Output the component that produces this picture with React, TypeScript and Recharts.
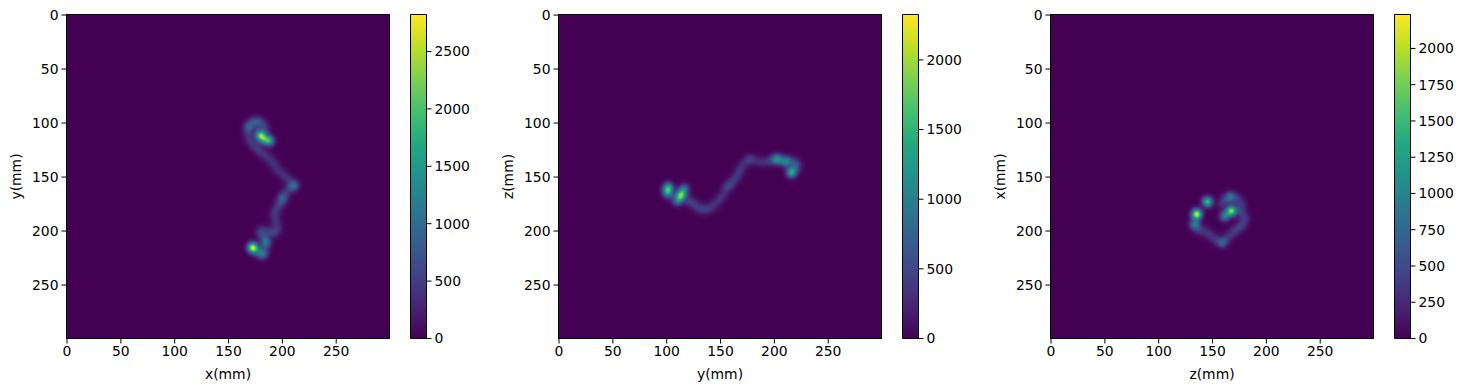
import { Bar, BarChart, Label, ReferenceArea, Scatter, ScatterChart, XAxis, YAxis } from "recharts";

type Peak = [number, number, number];

// [horizontal mm, vertical mm, peak counts], read along each track
const xyPeaks: Peak[] = [
  [172.4, 215.3, 2500], [175.5, 218, 420], [179, 220.5, 420], [182, 221.5, 750], [184, 216, 280],
  [184.7, 210.5, 950], [183, 206, 320], [179.5, 203, 260], [180, 199, 240], [184, 199.5, 180],
  [188, 201, 250], [192, 202, 300], [195.5, 199, 250], [195, 194.5, 200], [193.5, 190, 220],
  [193, 185.5, 240], [193.5, 181, 220], [196, 177.5, 240], [198.5, 174, 290], [200, 170, 680],
  [201.5, 166.5, 240], [204.5, 163, 200], [208, 160, 340], [211, 157.5, 800], [207, 153.5, 220],
  [203, 150, 240], [199, 146.5, 220], [195, 142.5, 260], [192, 138, 230], [188.8, 134, 260],
  [185, 130.5, 210], [181.5, 128, 230], [177.5, 124.5, 330], [174, 121, 250], [171, 117.5, 280],
  [169, 113, 250], [168, 108, 280], [168.7, 103.5, 650], [171.5, 100, 300], [175, 98.5, 500],
  [179, 99, 340], [182.5, 102, 300], [184.5, 106, 240], [180, 111.7, 1850], [178, 108.5, 300],
  [182.6, 114.8, 800], [188, 116.4, 1400], [185, 116, 400],
];
const yzPeaks: Peak[] = [
  [101.4, 159.7, 1200], [100.8, 164.3, 1050], [113, 167.4, 1500], [116.2, 161.2, 750], [110, 172, 800],
  [114.5, 164, 400], [104, 167, 150], [120, 172, 260], [124, 174, 260], [128, 177.5, 230],
  [132, 180, 260], [136.5, 180, 230], [141, 178.5, 260], [145.5, 174, 230], [150, 169.5, 260],
  [153.5, 164, 230], [157, 158.5, 380], [160.5, 155, 220], [164, 151.5, 240], [166.5, 147, 210],
  [168.7, 142.5, 230], [172, 137.5, 220], [176.5, 133.5, 330], [181.5, 134.5, 190], [187, 135.6, 190],
  [192, 136, 180], [197, 135, 240], [202, 133.4, 1050], [206, 134.5, 240], [210.4, 135.6, 900],
  [215, 135, 240], [219.7, 136.5, 300], [221, 141, 320], [216, 145.8, 1300], [217, 141, 200],
];
const zxPeaks: Peak[] = [
  [135.4, 184.4, 2100], [133.6, 193.7, 900], [136, 198, 200], [145.3, 173, 1500], [139, 199.5, 170],
  [143.8, 200.5, 220], [148, 204, 210], [153, 207.8, 260], [159, 210.7, 650], [163, 207, 220],
  [167, 203, 240], [171, 199.5, 220], [174.7, 196.8, 260], [178, 193.5, 240], [180, 189, 210],
  [178.5, 185, 220], [175.6, 181, 240], [167.6, 181.3, 1800], [161.4, 186, 950], [159, 175, 240],
  [161, 171, 200], [166.3, 168.5, 800], [171, 169, 220], [175, 172, 220], [177, 176.5, 200],
];

const axisTicks = [0, 50, 100, 150, 200, 250];
const xyBarTicks = [0, 500, 1000, 1500, 2000, 2500];
const yzBarTicks = [0, 500, 1000, 1500, 2000];
const zxBarTicks = [0, 250, 500, 750, 1000, 1250, 1500, 1750, 2000];

const viridis = ["#440154", "#482475", "#414487", "#355f8d", "#2a788e", "#21918c", "#22a884", "#44bf70", "#7ad151", "#bddf26", "#fde725"];

const channel = (shift: number) =>
  viridis.map((c) => ((parseInt(c.slice(1), 16) >> shift) & 255) / 255).join(" ");

const font = "'DejaVu Sans'";
const tickStyle = { fontSize: 13.9, fontFamily: font, fill: "#000" };
const labelStyle = { fontSize: 13.9, fontFamily: font, fill: "#000" };

function Blob(props: any) {
  return (
    <circle
      cx={props.cx}
      cy={props.cy}
      r={11}
      fill="url(#blob)"
      opacity={props.payload.v / props.payload.max}
      style={{ mixBlendMode: "plus-lighter" }}
    />
  );
}

interface PanelProps {
  left: number;
  peaks: Peak[];
  max: number;
  barTicks: number[];
  xLabel: string;
  yLabel: string;
}

function Panel({ left, peaks, max, barTicks, xLabel, yLabel }: PanelProps) {
  const data = peaks.map(([x, y, v]) => ({ x, y, v, max }));
  return (
    <>
      <div style={{ position: "absolute", left, top: 0 }}>
        <ScatterChart width={392} height={391} margin={{ top: 14.5, right: 2.5, bottom: 0, left: 0 }}>
          <XAxis
            type="number"
            dataKey="x"
            domain={[-0.5, 299.5]}
            ticks={axisTicks}
            height={52.5}
            tick={tickStyle}
            tickSize={5}
            tickMargin={3}
            stroke="#000"
            allowDataOverflow
          >
            <Label value={xLabel} position="insideBottom" offset={12} style={labelStyle} />
          </XAxis>
          <YAxis
            type="number"
            dataKey="y"
            reversed
            domain={[-0.5, 299.5]}
            ticks={axisTicks}
            width={66.5}
            tick={tickStyle}
            tickSize={5}
            tickMargin={3}
            stroke="#000"
            allowDataOverflow
          >
            <Label value={yLabel} angle={-90} position="insideLeft" offset={16} style={{ ...labelStyle, textAnchor: "middle" }} />
          </YAxis>
          <ReferenceArea x1={-0.5} x2={299.5} y1={-0.5} y2={299.5} fill="#440154" fillOpacity={1} stroke="#000" strokeOpacity={1} />
          <Scatter data={data} shape={Blob} isAnimationActive={false} />
        </ScatterChart>
      </div>
      <div style={{ position: "absolute", left: left + 344, top: 0 }}>
        <BarChart
          width={136}
          height={391}
          data={[{ name: "", value: max }]}
          barCategoryGap={0}
          margin={{ top: 14.5, right: 0, bottom: 52.5, left: 66.5 }}
        >
          <XAxis dataKey="name" hide />
          <YAxis
            orientation="right"
            type="number"
            domain={[0, max]}
            ticks={barTicks}
            width={53.5}
            tick={tickStyle}
            tickSize={5}
            tickMargin={3}
            stroke="#000"
            axisLine={false}
          />
          <Bar dataKey="value" fill="url(#viridisBar)" stroke="#000" isAnimationActive={false} />
        </BarChart>
      </div>
    </>
  );
}

export default function App() {
  return (
    <div style={{ position: "absolute", left: 0, top: 0, width: 1465, height: 391, background: "#fff", overflow: "hidden" }}>
      <style>{`.heat .recharts-scatter { filter: url(#heat); }`}</style>
      <svg width={0} height={0} style={{ position: "absolute" }}>
        <defs>
          <radialGradient id="blob">
            {[0, 0.1, 0.2, 0.3, 0.4, 0.5, 0.6, 0.7, 0.8, 0.9, 1].map((t) => (
              <stop key={t} offset={t} stopColor="#fff" stopOpacity={t === 1 ? 0 : Math.exp(-5 * t * t)} />
            ))}
          </radialGradient>
          <linearGradient id="viridisBar" x1="0" y1="1" x2="0" y2="0">
            {viridis.map((c, i) => (
              <stop key={c} offset={i / (viridis.length - 1)} stopColor={c} />
            ))}
          </linearGradient>
          <filter id="heat" colorInterpolationFilters="sRGB">
            <feColorMatrix type="matrix" values="0 0 0 1 0  0 0 0 1 0  0 0 0 1 0  0 0 0 255 0" />
            <feComponentTransfer>
              <feFuncR type="table" tableValues={channel(16)} />
              <feFuncG type="table" tableValues={channel(8)} />
              <feFuncB type="table" tableValues={channel(0)} />
            </feComponentTransfer>
          </filter>
        </defs>
      </svg>
      <div className="heat">
        <Panel left={0} peaks={xyPeaks} max={2822} barTicks={xyBarTicks} xLabel="x(mm)" yLabel="y(mm)" />
        <Panel left={491.7} peaks={yzPeaks} max={2326} barTicks={yzBarTicks} xLabel="y(mm)" yLabel="z(mm)" />
        <Panel left={983.5} peaks={zxPeaks} max={2234} barTicks={zxBarTicks} xLabel="z(mm)" yLabel="x(mm)" />
      </div>
    </div>
  );
}
